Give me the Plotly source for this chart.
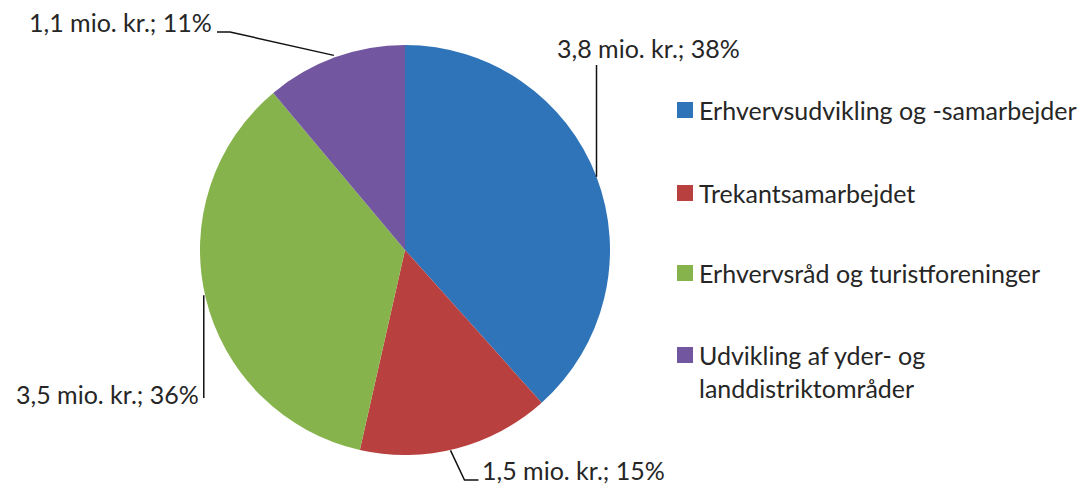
import math
import plotly.graph_objects as go

# ---- data ----
categories = [
    "Erhvervsudvikling og -samarbejder",
    "Trekantsamarbejdet",
    "Erhvervsråd og turistforeninger",
    "Udvikling af yder- og<br>landdistriktområder",
]
amounts_mio = [3.8, 1.5, 3.5, 1.1]
shares_pct = [38, 15, 36, 11]
colors = ["#2F74B9", "#B8403E", "#86B34C", "#7257A0"]

W, H = 1087, 486
OFF = 8  # page body margin compensation
FONT = "Lato"
FS = 25
TXT = "#262626"

# pie geometry (screen pixels)
cx, cy, r = 405, 250, 205

def px(x):
    return (x - OFF) / W

def py(y):
    return (H - (y - OFF)) / H

fig = go.Figure()
fig.add_trace(go.Pie(
    labels=[c.replace("<br>", " ") for c in categories],
    values=amounts_mio,
    sort=False,
    direction="clockwise",
    rotation=0,
    marker=dict(colors=colors, line=dict(width=0)),
    textinfo="none",
    hoverinfo="label+value",
    showlegend=False,
    domain=dict(x=[px(cx - r), px(cx + r)], y=[py(cy + r), py(cy - r)]),
))

# edge points at slice mid-angles
total = sum(amounts_mio)
edges = []
cum = 0
for v in amounts_mio:
    mid = (cum + v / 2) / total * 2 * math.pi
    edges.append((cx + r * math.sin(mid), cy - r * math.cos(mid)))
    cum += v

labels_txt = [f"{str(a).replace('.', ',')} mio. kr.; {p}%" for a, p in zip(amounts_mio, shares_pct)]

shapes = []
annotations = []

def line_path(pts):
    d = "M " + " L ".join(f"{px(x)},{py(y)}" for x, y in pts)
    return dict(type="path", path=d, xref="paper", yref="paper",
                line=dict(color="#111111", width=1.5))

# blue: vertical leader up
ex, ey = edges[0]
shapes.append(line_path([(ex, ey), (ex, 65)]))
annotations.append(dict(x=px(648), y=py(48), text=labels_txt[0], xanchor="center", yanchor="middle"))
# red: down-right then horizontal
ex, ey = edges[1]
shapes.append(line_path([(ex - 6, ey + 2), (ex + 8, 480), (ex + 22, 480)]))
annotations.append(dict(x=px(ex + 24), y=py(470), text=labels_txt[1], xanchor="left", yanchor="middle"))
# green: vertical leader down
ex, ey = edges[2]
shapes.append(line_path([(ex - 2, ey - 3), (ex - 2, 398)]))
annotations.append(dict(x=px(ex - 5), y=py(394), text=labels_txt[2], xanchor="right", yanchor="middle"))
# purple: up-left then horizontal
ex, ey = edges[3]
shapes.append(line_path([(ex - 1, ey - 2), (230, 32), (217, 32)]))
annotations.append(dict(x=px(214), y=py(22), text=labels_txt[3], xanchor="right", yanchor="middle"))

# manual legend
leg_y = [110, 193, 273, 355]
for i, (c, col) in enumerate(zip(categories, colors)):
    y = leg_y[i]
    shapes.append(dict(type="rect", xref="paper", yref="paper",
                       x0=px(677), x1=px(693), y0=py(y + 8), y1=py(y - 8),
                       fillcolor=col, line=dict(width=0)))
    if "<br>" in c:
        annotations.append(dict(x=px(697), y=py(y - 17), text=c, xanchor="left", yanchor="top", align="left"))
    else:
        annotations.append(dict(x=px(697), y=py(y), text=c, xanchor="left", yanchor="middle", align="left"))

for a in annotations:
    a.update(xref="paper", yref="paper", showarrow=False,
             font=dict(family=FONT, size=FS, color=TXT))

fig.update_layout(
    width=W, height=H,
    margin=dict(l=0, r=0, t=0, b=0),
    paper_bgcolor="white",
    plot_bgcolor="white",
    shapes=shapes,
    annotations=annotations,
    font=dict(family=FONT, size=FS, color=TXT),
)

fig.write_html("out.html")
